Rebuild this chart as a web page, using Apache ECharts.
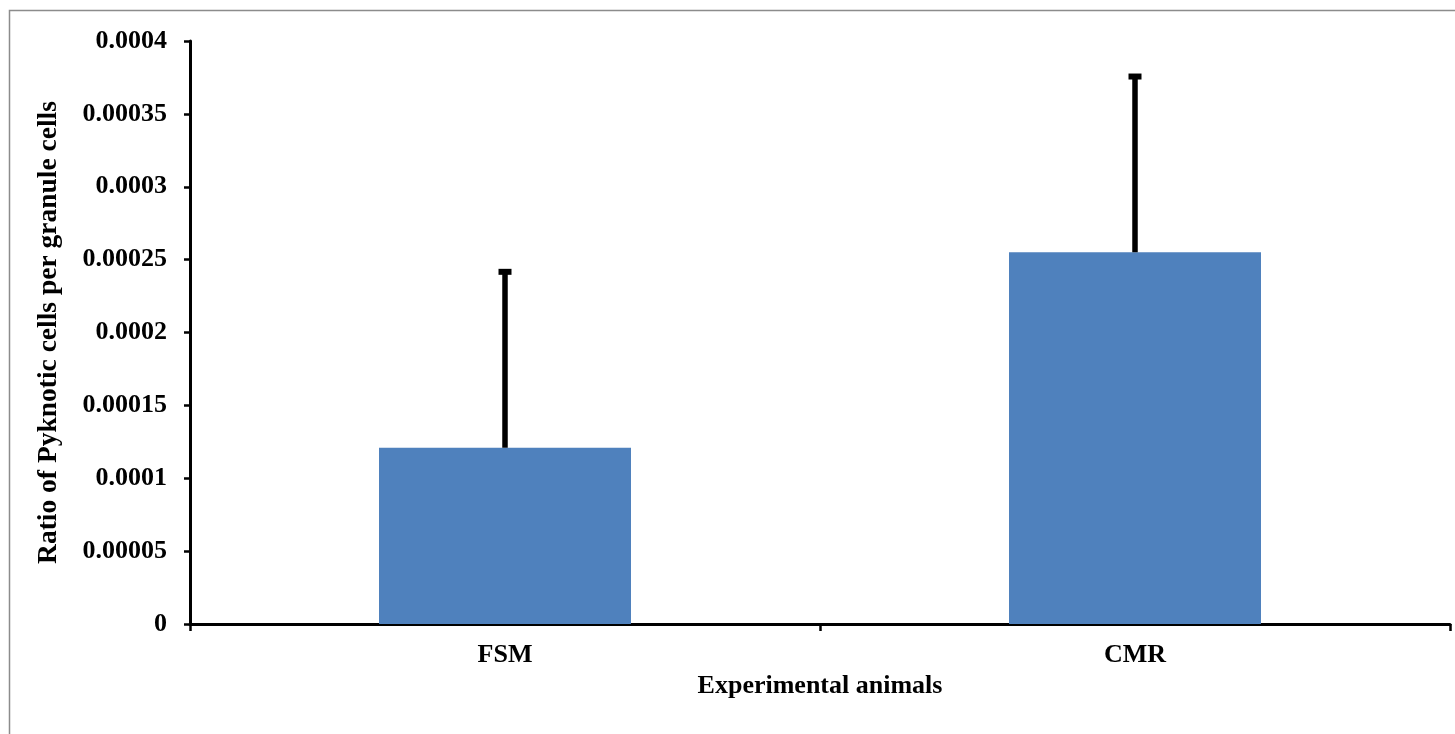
<!DOCTYPE html>
<html>
<head>
<meta charset="utf-8">
<script src="https://cdn.jsdelivr.net/npm/echarts@6/dist/echarts.min.js"></script>
<style>html,body{margin:0;padding:0;background:#fff;}#c{width:1455px;height:734px;}</style>
</head>
<body>
<div id="c"></div>
<script>
var categories = ['FSM', 'CMR'];
var means = [0.000121, 0.000255];
var errors = [0.000122, 0.000122];
var yTicks = ['0', '0.00005', '0.0001', '0.00015', '0.0002', '0.00025', '0.0003', '0.00035', '0.0004'];

var font = 'Liberation Serif, Times New Roman, serif';
var chart = echarts.init(document.getElementById('c'));
var errData = categories.map(function (c, i) { return [i, means[i], means[i] + errors[i]]; });

chart.setOption({
  animation: false,
  backgroundColor: '#fff',
  graphic: [{
    type: 'rect', z: -1,
    shape: { x: 9.5, y: 10.5, width: 1460, height: 740 },
    style: { fill: 'none', stroke: '#8c8c8c', lineWidth: 1.5 }
  }],
  grid: { left: 190, right: 5, top: 41, bottom: 110 },
  xAxis: {
    type: 'category',
    data: categories,
    name: 'Experimental animals',
    nameLocation: 'middle',
    nameGap: 42,
    nameTextStyle: { fontFamily: font, fontWeight: 'bold', fontSize: 26, color: '#000' },
    axisLine: { lineStyle: { color: '#000', width: 3 } },
    axisTick: { show: true, length: 7, lineStyle: { color: '#000', width: 2.5 } },
    axisLabel: { fontFamily: font, fontWeight: 'bold', fontSize: 26, color: '#000', margin: 18 }
  },
  yAxis: {
    type: 'value',
    min: 0, max: 0.0004, interval: 0.00005,
    name: 'Ratio of Pyknotic cells per granule cells',
    nameLocation: 'middle',
    nameGap: 127,
    nameTextStyle: { fontFamily: font, fontWeight: 'bold', fontSize: 27.5, color: '#000' },
    splitLine: { show: false },
    axisLine: { show: true, lineStyle: { color: '#000', width: 3 } },
    axisTick: { show: true, length: 6, lineStyle: { color: '#000', width: 2.5 } },
    axisLabel: {
      fontFamily: font, fontWeight: 'bold', fontSize: 26, color: '#000', margin: 23,
      formatter: function (v) { return yTicks[Math.round(v / 0.00005)]; }
    }
  },
  series: [{
    type: 'bar',
    data: means,
    barWidth: 252,
    itemStyle: { color: '#4F81BD' }
  }, {
    type: 'custom',
    data: errData,
    z: 10,
    renderItem: function (params, api) {
      var x = api.value(0);
      var lo = api.coord([x, api.value(1)]);
      var hi = api.coord([x, api.value(2)]);
      var cap = 6.5;
      return {
        type: 'group',
        children: [{
          type: 'line',
          shape: { x1: lo[0], y1: lo[1], x2: hi[0], y2: hi[1] + 2 },
          style: { stroke: '#000', lineWidth: 5.5 }
        }, {
          type: 'rect',
          shape: { x: hi[0] - cap, y: hi[1] - 1, width: cap * 2, height: 6 },
          style: { fill: '#000' }
        }]
      };
    }
  }]
});
</script>
</body>
</html>
